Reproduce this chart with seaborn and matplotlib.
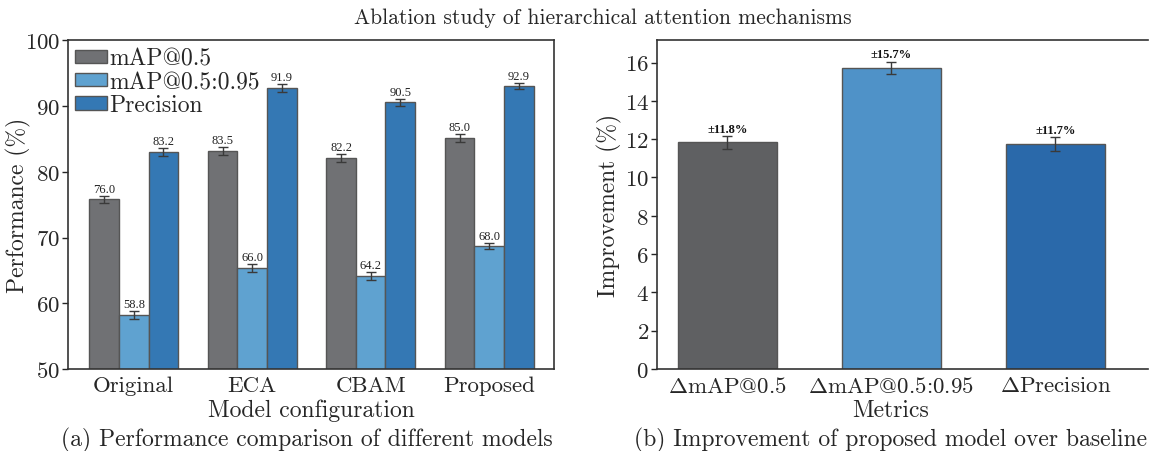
import numpy as np
import pandas as pd
import matplotlib
matplotlib.use("Agg")
import matplotlib.pyplot as plt
import seaborn as sns

# ---------------- data ----------------
models = ["Original", "ECA", "CBAM", "Proposed"]
metrics = ["mAP@0.5", "mAP@0.5:0.95", "Precision"]
map50 = [75.8, 83.2, 82.1, 85.2]
map5095 = [58.2, 65.4, 64.2, 68.7]
precision = [83.0, 92.8, 90.6, 93.1]
map50_err = [0.6, 0.6, 0.6, 0.6]
map5095_err = [0.6, 0.6, 0.6, 0.5]
precision_err = [0.6, 0.6, 0.5, 0.5]
map50_labels = ["76.0", "83.5", "82.2", "85.0"]
map5095_labels = ["58.8", "66.0", "64.2", "68.0"]
precision_labels = ["83.2", "91.9", "90.5", "92.9"]

delta_metrics = [r"$\Delta$mAP@0.5", r"$\Delta$mAP@0.5:0.95", r"$\Delta$Precision"]
improvement = [11.84, 15.72, 11.75]
improvement_err = [0.34, 0.33, 0.35]
improvement_labels = ["±11.8%", "±15.7%", "±11.7%"]

left_colors = ["#707174", "#5fa2d0", "#3478b4"]
right_colors = ["#5f6062", "#4f92c8", "#2a69aa"]

# ---------------- style ----------------
sns.set_style("ticks")
plt.rcParams["font.family"] = ["cmr10", "DejaVu Serif"]
plt.rcParams["mathtext.fontset"] = "cm"
plt.rcParams["axes.formatter.use_mathtext"] = True
plt.rcParams["axes.unicode_minus"] = False

fig = plt.figure(figsize=(11.49, 4.52), dpi=100)
ax1 = fig.add_axes([0.0594, 0.1814, 0.423, 0.7268])
ax2 = fig.add_axes([0.572, 0.1814, 0.4275, 0.7268])

edge = "#555555"
ecol = "#3a3a3a"

# ---------------- left panel ----------------
df1 = pd.DataFrame({
    "Model": models * 3,
    "Metric": [metrics[0]] * 4 + [metrics[1]] * 4 + [metrics[2]] * 4,
    "Value": map50 + map5095 + precision,
})
sns.barplot(data=df1, x="Model", y="Value", hue="Metric", hue_order=metrics,
            palette=left_colors, width=0.75, errorbar=None, saturation=1,
            edgecolor=edge, linewidth=1.0, ax=ax1)

for cont, errs, labs in zip(ax1.containers,
                            [map50_err, map5095_err, precision_err],
                            [map50_labels, map5095_labels, precision_labels]):
    for bar, e, lab in zip(cont, errs, labs):
        x = bar.get_x() + bar.get_width() / 2
        h = bar.get_height()
        ax1.errorbar(x, h, yerr=e, fmt="none", ecolor=ecol, elinewidth=1.0,
                     capsize=3.5, capthick=1.0)
        ax1.text(x, h + e + 0.15, lab, ha="center", va="bottom", fontsize=9,
                 family="Liberation Serif", color="#222222")

ax1.set_xlim(-0.553, 3.55)
ax1.set_ylim(50, 100)
ax1.set_yticks([50, 60, 70, 80, 90, 100])
ax1.tick_params(axis="y", direction="out", length=4, width=1, labelsize=16.5, pad=2)
ax1.tick_params(axis="x", length=0, labelsize=16.5, pad=5)
ax1.set_xlabel("Model configuration", fontsize=17, labelpad=2)
ax1.set_ylabel("Performance (%)", fontsize=17)
ax1.yaxis.set_label_coords(-0.077, 0.5)
h, l = ax1.get_legend_handles_labels()
ax1.legend(h, l, loc="upper left", frameon=False, fontsize=17,
           handlelength=1.35, handleheight=0.5, handletextpad=0.1,
           labelspacing=0.05, borderaxespad=0.1, borderpad=0.2)
for s in ax1.spines.values():
    s.set_color("#333333")
    s.set_linewidth(1.2)

# ---------------- right panel ----------------
df2 = pd.DataFrame({"Metric": delta_metrics, "Value": improvement})
sns.barplot(data=df2, x="Metric", y="Value", hue="Metric", palette=right_colors,
            width=0.6, errorbar=None, saturation=1, legend=False,
            edgecolor=edge, linewidth=1.0, ax=ax2)

bars = [p for c in ax2.containers for p in c]
for bar, e, lab in zip(bars, improvement_err, improvement_labels):
    x = bar.get_x() + bar.get_width() / 2
    h = bar.get_height()
    ax2.errorbar(x, h, yerr=e, fmt="none", ecolor=ecol, elinewidth=1.0,
                 capsize=3.5, capthick=1.0)
    ax2.text(x, h + e + 0.06, lab, ha="center", va="bottom", fontsize=9,
             family="Liberation Serif", fontweight="bold", color="#111111")

ax2.set_xlim(-0.427, 2.567)
ax2.set_ylim(0, 17.15)
ax2.set_yticks(list(range(0, 17, 2)))
ax2.tick_params(axis="y", direction="out", length=4, width=1, labelsize=16.5, pad=2)
ax2.tick_params(axis="x", length=0, labelsize=16.5, pad=5)
ax2.set_xlabel("Metrics", fontsize=17, labelpad=2, x=0.476)
ax2.set_ylabel("Improvement (%)", fontsize=17)
ax2.yaxis.set_label_coords(-0.071, 0.5)
for s in ax2.spines.values():
    s.set_color("#333333")
    s.set_linewidth(1.2)
ax2.spines["right"].set_visible(False)

# ---------------- captions / title ----------------
fig.text(0.267, 1 - 440 / 452, "(a) Performance comparison of different models",
         ha="center", va="center", fontsize=17)
fig.text(891 / 1149, 1 - 440 / 452, "(b) Improvement of proposed model over baseline",
         ha="center", va="center", fontsize=17)
fig.text(0.525, 1 - 18 / 452, "Ablation study of hierarchical attention mechanisms",
         ha="center", va="center", fontsize=15.5)

fig.savefig("out.png", dpi=100)
